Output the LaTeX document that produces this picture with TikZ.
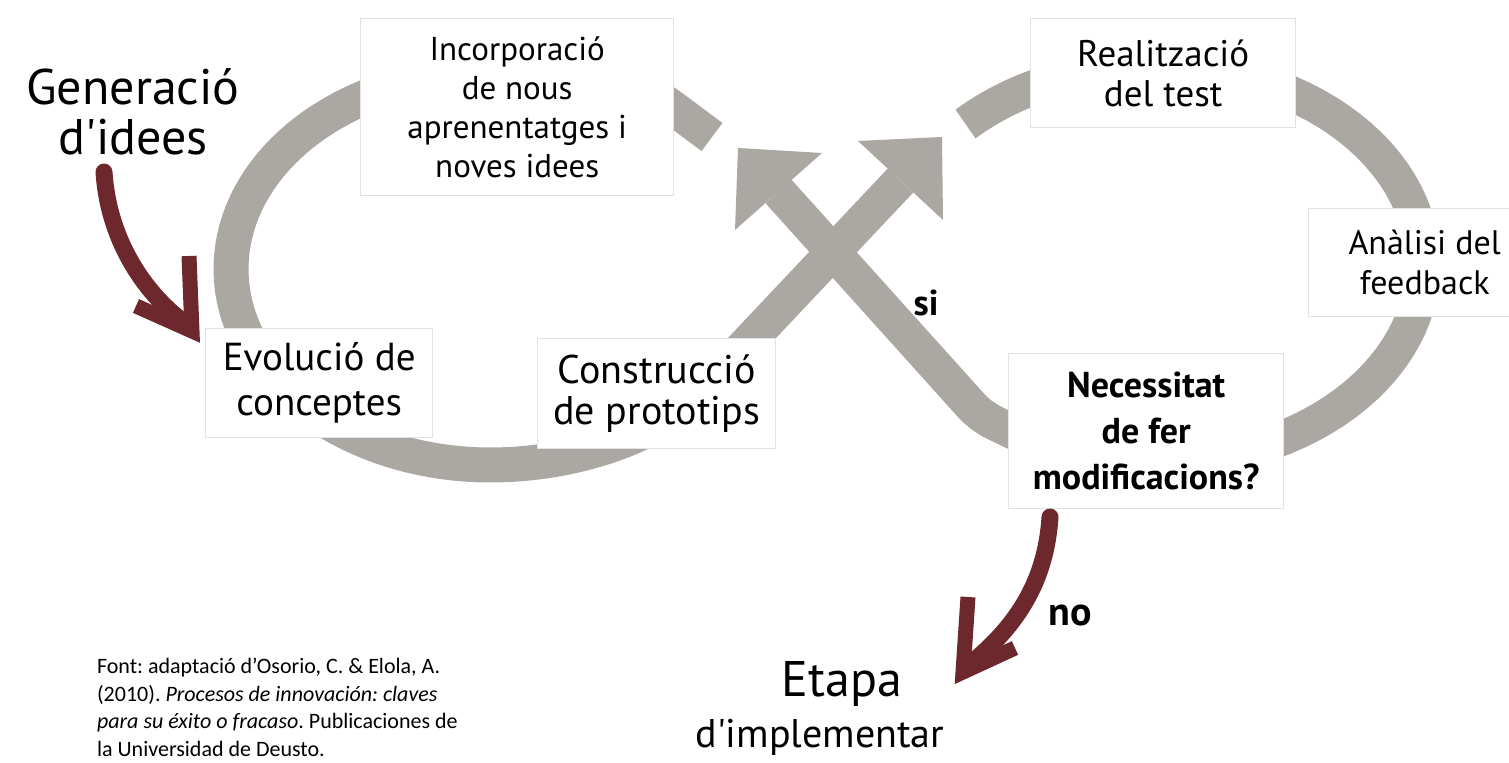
\documentclass[tikz,border=0pt]{standalone}
\usepackage{fontspec}
\setmainfont{PT Sans}
\newfontfamily\capfont{Carlito}
\definecolor{bandgray}{RGB}{171,167,162}
\definecolor{arrowred}{RGB}{108,40,44}
\definecolor{boxline}{RGB}{226,226,226}
\begin{document}
\frenchspacing
\begin{tikzpicture}[x=0.5pt,y=-0.5pt,
  band/.style={draw=bandgray, line width=17.5pt, line join=round},
  headshape/.style={fill=bandgray},
  box/.style={draw=boxline, line width=0.7pt, fill=white, anchor=north west, inner sep=2pt, align=center, text=black},
  hand/.style={align=center, text=black},
  redline/.style={draw=arrowred, line width=8.5pt, line cap=round},
  redbarb/.style={draw=arrowred, line width=7.5pt, line join=miter, line cap=butt},
]
\fill[white] (0,0) rectangle (1509,763);
\useasboundingbox (0,0) rectangle (1509,763);
\clip (0,0) rectangle (1509,763);

% --- coordinates of the grey band
\coordinate (LAtip) at (738,148);
\coordinate (LAbase) at (778.5,191.5);
\coordinate (RAtip) at (942,137);
\coordinate (RAbase) at (900.5,180.5);
\coordinate (Lbend) at (703,390);
\coordinate (Rbend) at (968,402);
\coordinate (Lend) at (712,137);
\coordinate (Ltop) at (673,108);

% left loop, ending in the up-right arrow
\draw[band] (Lend) -- (Ltop) .. controls (595,50) and (472,50) .. (360.5,99.3)
  -- plot[domain=240:90, samples=60, variable=\t] ({490+259*cos(\t)},{269+196*sin(\t)})
  .. controls (580,465) and (663,433) .. (Lbend) -- (RAbase);
% right loop, ending in the up-left arrow
\draw[band] (LAbase) -- (Rbend) .. controls (983,419) and (992,421.5) .. (1008,429.5)
  -- plot[domain=123.3:-135, samples=80, variable=\t] ({1155+268*cos(\t)},{264+198*sin(\t)});
% arrow heads
\fill[headshape] (LAtip) -- (822,153) -- (735,230) -- cycle;
\fill[headshape] (RAtip) -- (858,141) -- (943,220) -- cycle;

% --- boxes
\node[box, minimum width=156.5pt, minimum height=88.5pt, font=\fontsize{16.5}{19.5}\selectfont] (inc) at (360,18)
  {Incorporació\\de nous\\aprenentatges i\\noves idees};
\node[box, minimum width=113.5pt, minimum height=54.5pt, font=\fontsize{19.5}{22.5}\selectfont] (evo) at (205,328)
  {Evolució de\\conceptes};
\node[box, minimum width=119pt, minimum height=55pt, font=\fontsize{20}{20.5}\selectfont] (con) at (537,338)
  {Construcció\\de prototips};
\node[box, minimum width=132.5pt, minimum height=54.5pt, font=\fontsize{18.5}{20}\selectfont] (rea) at (1030,18)
  {Realització\\del test};
\node[box, minimum width=116pt, minimum height=54pt, font=\fontsize{17}{20}\selectfont] (ana) at (1308,208)
  {Anàlisi del\\feedback};
\node[box, minimum width=137.5pt, minimum height=77.5pt, font=\bfseries\fontsize{18}{23}\selectfont] (nec) at (1008,353)
  {Necessitat\\de fer\\modificacions?};

% --- free texts
\node[hand, font=\fontsize{25}{25}\selectfont] (gen) at (133,112) {Generació\\d\textquotesingle idees};
\node[hand, font=\fontsize{25}{25}\selectfont] (eta) at (842,684) {Etapa};
\node[hand, font=\fontsize{20}{20}\selectfont] (imp) at (820,737) {d\textquotesingle implementar};
\node[hand, font=\bfseries\fontsize{18}{18}\selectfont] (si) at (926,303) {si};
\node[hand, font=\bfseries\fontsize{20}{20}\selectfont] (no) at (1070,616) {no};
\node[anchor=north west, align=left, font=\capfont\fontsize{11}{13.75}\selectfont] (cap) at (90,651)
  {Font: adaptació d’Osorio, C. \& Elola, A.\\(2010). \textit{Procesos de innovación: claves}\\\textit{para su éxito o fracaso}. Publicaciones de\\la Universidad de Deusto.};

% --- red arrows
\coordinate (A1s) at (104,172);
\coordinate (A1t) at (192,331);
\draw[redline] (A1s) .. controls (108,235) and (140,290) .. (186,324);
\draw[redbarb] (189,256) -- (A1t) -- (136,306);
\coordinate (A2s) at (1050,517);
\coordinate (A2t) at (963,672);
\draw[redline] (A2s) .. controls (1046,580) and (1018,625) .. (970,664);
\draw[redbarb] (968,597) -- (A2t) -- (1015,648);
\end{tikzpicture}
\end{document}
